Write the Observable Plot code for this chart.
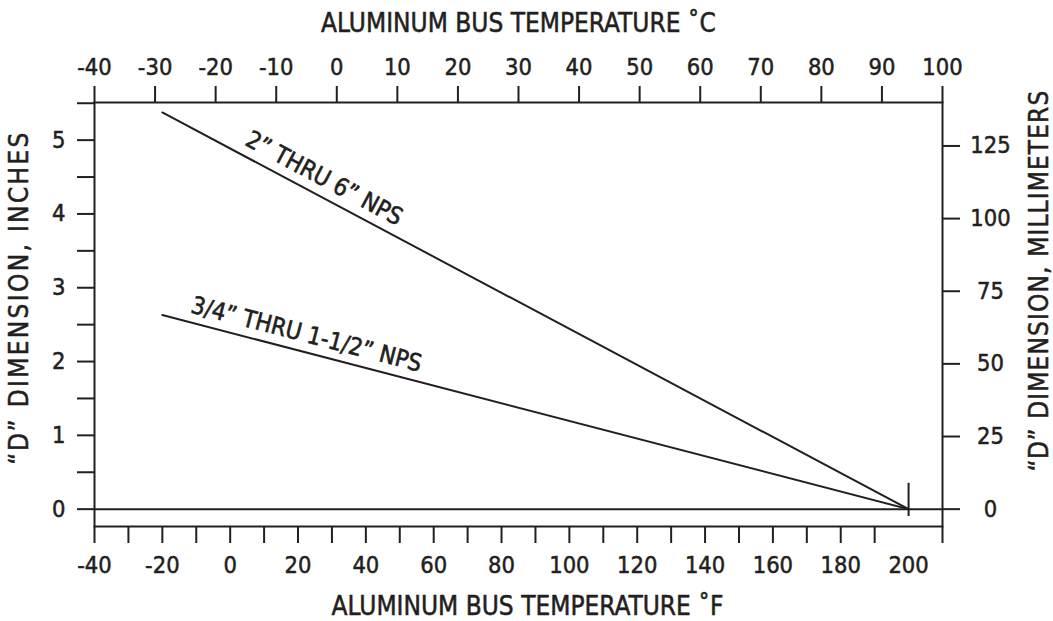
<!DOCTYPE html>
<html><head><meta charset="utf-8">
<script src="https://cdn.jsdelivr.net/npm/d3@7"></script>
<script src="https://cdn.jsdelivr.net/npm/@observablehq/plot@0.6"></script>
<style>body{margin:0;background:#fff}</style>
</head><body><div id="chart"></div>
<script>
// ---- data ----
const fahrenheitTicks = [-40,-30,-20,-10,0,10,20,30,40,50,60,70,80,90,100,110,120,130,140,150,160,170,180,190,210];
const fahrenheitLabels = [-40,-20,0,20,40,60,80,100,120,140,160,180,200];
const celsiusTicks = [-40,-30,-20,-10,0,10,20,30,40,50,60,70,80,90,100];
const inchTicks = [0,0.5,1,1.5,2,2.5,3,3.5,4,4.5,5,5.5];
const mmTicks = [0,25,50,75,100,125];
const seriesNames = ["2” THRU 6” NPS", "3/4” THRU 1-1/2” NPS"];
const tempF = [-20, 200];
const dLarge = [5.375, 0];
const dSmall = [2.63, 0];
const labelAtF = [27.7, 22.5];
const labelOffset = [-20, -18];
const maxMarkF = 200;

// ---- helpers ----
const INK = "#231f20";
const FONT = "'DejaVu Sans Condensed', 'Liberation Sans Narrow', sans-serif";
// the printed °C scale spans the frame exactly (-40..100 °C over -40..210 °F)
const cToF = c => -40 + (c + 40) * 250 / 140;
const fToC = f => String(Math.round((f + 40) * 140 / 250 - 40));
const plain = d => String(d);

const W = 1053, H = 621, mT = 102, mB = 95, mL = 94, mR = 111;
const xDomain = [-40, 210], yDomain = [-0.235, 5.51];
const sx = d3.scaleLinear(xDomain, [mL, W - mR]);
const sy = d3.scaleLinear(yDomain, [H - mB, mT]);

const seriesValues = [dLarge, dSmall];
const lineData = [];
seriesNames.forEach((s, i) => tempF.forEach((t, j) => lineData.push({series: s, tempF: t, d: seriesValues[i][j]})));

const labelData = seriesNames.map((s, i) => {
  const v = seriesValues[i];
  const f = labelAtF[i];
  const d = v[0] + (v[1] - v[0]) * (f - tempF[0]) / (tempF[1] - tempF[0]);
  const ang = Math.atan2(sy(v[1]) - sy(v[0]), sx(tempF[1]) - sx(tempF[0])) * 180 / Math.PI;
  return {series: s, tempF: f, d, rotate: ang, off: labelOffset[i]};
});

const tickText = {fontSize: 23.5, fill: INK, textStroke: INK, textStrokeWidth: 0.5, label: null};
const titleText = {fontSize: 26, fill: INK, stroke: INK, strokeWidth: 0.5, textAnchor: "middle"};

const chart = Plot.plot({
  width: W, height: H,
  marginTop: mT, marginBottom: mB, marginLeft: mL, marginRight: mR,
  x: {domain: xDomain},
  y: {domain: yDomain},
  style: {fontFamily: FONT, color: INK, background: "#fff"},
  marks: [
    Plot.frame({stroke: INK, strokeWidth: 2}),
    Plot.ruleY([0], {stroke: INK, strokeWidth: 2}),
    Plot.ruleX([maxMarkF], {y1: -0.1, y2: 0.35, stroke: INK, strokeWidth: 2}),
    // bottom °F axis
    Plot.axisX(fahrenheitTicks, {anchor: "bottom", tickSize: 17, tickFormat: () => "", stroke: INK, strokeWidth: 2, label: null}),
    Plot.axisX(fahrenheitLabels, {anchor: "bottom", tickSize: 0, tickPadding: 30, tickFormat: plain, ...tickText}),
    // top °C axis
    Plot.axisX(celsiusTicks.map(cToF), {anchor: "top", tickSize: 17, tickPadding: 11, tickFormat: fToC, stroke: INK, strokeWidth: 2, ...tickText}),
    // left inches axis
    Plot.axisY(inchTicks, {anchor: "left", tickSize: 17, tickPadding: 12, tickFormat: d => Number.isInteger(d) ? String(d) : "", stroke: INK, strokeWidth: 2, ...tickText}),
    // right millimetres axis
    Plot.axisY(mmTicks.map(m => m / 25.4), {anchor: "right", tickSize: 17, tickPadding: 31, textAnchor: "middle", tickFormat: i => String(Math.round(i * 25.4)), stroke: INK, strokeWidth: 2, ...tickText}),
    // lines
    Plot.line(lineData, {x: "tempF", y: "d", z: "series", stroke: INK, strokeWidth: 2}),
    ...labelData.map(l => Plot.text([l], {x: "tempF", y: "d", text: "series", rotate: "rotate", dy: l.off, ...titleText, fontSize: 24, strokeWidth: 0.6})),
    // titles
    Plot.text(["ALUMINUM BUS TEMPERATURE ˚C"], {frameAnchor: "top", dy: -89, ...titleText}),
    Plot.text(["ALUMINUM BUS TEMPERATURE ˚F"], {frameAnchor: "bottom", dx: 9, dy: 88, ...titleText}),
    Plot.text(["“D” DIMENSION, INCHES"], {frameAnchor: "left", dx: -75, dy: -17, rotate: -90, ...titleText}),
    Plot.text(["“D” DIMENSION, MILLIMETERS"], {frameAnchor: "right", dx: 97, dy: -34, rotate: -90, ...titleText})
  ]
});
// side titles are set a little wider in the original artwork
d3.select(chart).selectAll("text").each(function() {
  const t = this.textContent;
  if (t === "“D” DIMENSION, INCHES") this.setAttribute("letter-spacing", "2.3");
  if (t === "“D” DIMENSION, MILLIMETERS") this.setAttribute("letter-spacing", "1.1");
});
document.getElementById("chart").appendChild(chart);
</script>
</body></html>
